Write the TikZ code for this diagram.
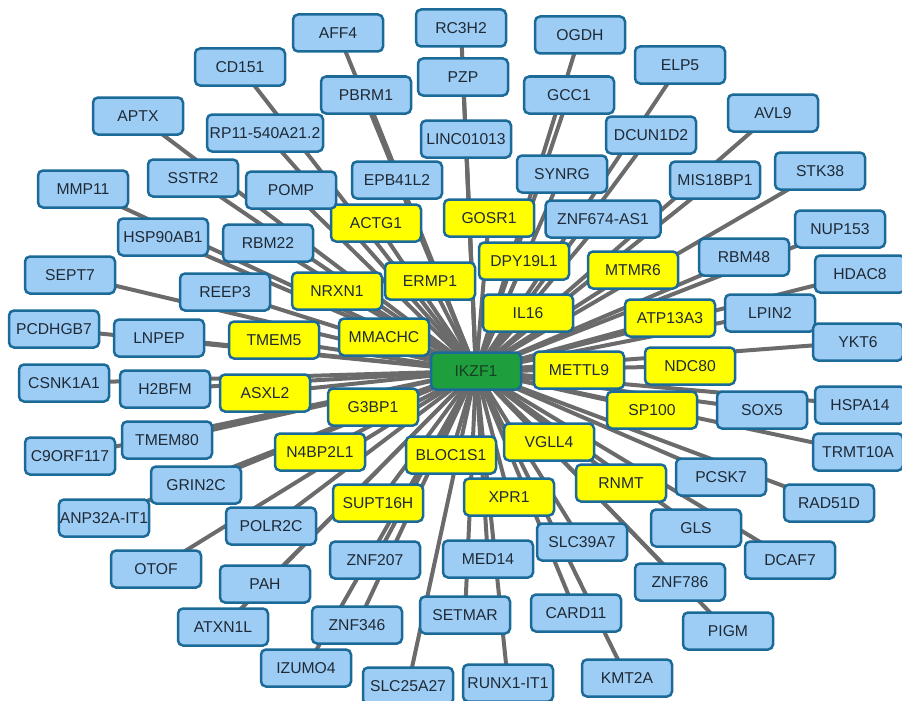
\documentclass[tikz,border=0pt]{standalone}
\usepackage{fontspec}
\setmainfont{Liberation Sans}
\pgfdeclarelayer{bg}
\pgfsetlayers{bg,main}
\definecolor{bluefill}{HTML}{9DCDF5}
\definecolor{edgeblue}{HTML}{1C6A98}
\definecolor{yfill}{HTML}{FFFF00}
\definecolor{gfill}{HTML}{1F9E3E}
\definecolor{gtext}{HTML}{173F22}
\definecolor{linkgray}{HTML}{6B6B6B}
\definecolor{txt}{HTML}{1F2A36}
\tikzset{
  x=1pt, y=-1pt,
  gene/.style={draw=edgeblue, line width=2.5pt, rounded corners=5pt,
    minimum width=90pt, minimum height=37pt, inner sep=1pt,
    font=\fontsize{15.7}{16}\selectfont, text=txt},
  bnode/.style={gene, fill=bluefill},
  ynode/.style={gene, fill=yfill},
  hub/.style={gene, fill=gfill, text=gtext},
  link/.style={draw=linkgray, line width=4pt}
}
\begin{document}
\begin{tikzpicture}
\useasboundingbox (0,0) rectangle (902,701);
\node[hub] (IKZF1) at (476,371) {IKZF1};
% yellow
\node[ynode] (ACTG1) at (376,223) {ACTG1};
\node[ynode] (GOSR1) at (489,218) {GOSR1};
\node[ynode] (DPY19L1) at (524,261) {DPY19L1};
\node[ynode] (MTMR6) at (633,270) {MTMR6};
\node[ynode] (NRXN1) at (337,291) {NRXN1};
\node[ynode] (ERMP1) at (430,281) {ERMP1};
\node[ynode] (IL16) at (528,313) {IL16};
\node[ynode] (ATP13A3) at (670,318) {ATP13A3};
\node[ynode] (TMEM5) at (274,340) {TMEM5};
\node[ynode] (MMACHC) at (384,337) {MMACHC};
\node[ynode] (METTL9) at (579,370) {METTL9};
\node[ynode] (NDC80) at (690,366) {NDC80};
\node[ynode] (ASXL2) at (265,393) {ASXL2};
\node[ynode] (G3BP1) at (373,407) {G3BP1};
\node[ynode] (SP100) at (652,410) {SP100};
\node[ynode] (N4BP2L1) at (320,452) {N4BP2L1};
\node[ynode] (BLOC1S1) at (451,455) {BLOC1S1};
\node[ynode] (VGLL4) at (549,442) {VGLL4};
\node[ynode] (RNMT) at (621,483) {RNMT};
\node[ynode] (SUPT16H) at (378,503) {SUPT16H};
\node[ynode] (XPR1) at (509,497) {XPR1};
% blue
\node[bnode] (AFF4) at (338,33) {AFF4};
\node[bnode] (RC3H2) at (461,28) {RC3H2};
\node[bnode] (OGDH) at (580,35) {OGDH};
\node[bnode] (CD151) at (240,67) {CD151};
\node[bnode] (PBRM1) at (366,95) {PBRM1};
\node[bnode] (PZP) at (463,77) {PZP};
\node[bnode] (ELP5) at (680,65) {ELP5};
\node[bnode] (GCC1) at (569,95) {GCC1};
\node[bnode] (APTX) at (138,116) {APTX};
\node[bnode, minimum width=116pt] (RP11) at (265,133) {RP11-540A21.2};
\node[bnode] (LINC01013) at (466,139) {LINC01013};
\node[bnode] (DCUN1D2) at (651,135) {DCUN1D2};
\node[bnode] (AVL9) at (773,113) {AVL9};
\node[bnode] (SSTR2) at (193,178) {SSTR2};
\node[bnode] (MMP11) at (83,189) {MMP11};
\node[bnode] (POMP) at (291,190) {POMP};
\node[bnode] (EPB41L2) at (397,180) {EPB41L2};
\node[bnode] (SYNRG) at (562,174) {SYNRG};
\node[bnode] (MIS18BP1) at (715,180) {MIS18BP1};
\node[bnode] (STK38) at (820,171) {STK38};
\node[bnode, minimum width=115pt] (ZNF674) at (603,219) {ZNF674-AS1};
\node[bnode] (NUP153) at (840,229) {NUP153};
\node[bnode] (HSP90AB1) at (163,237) {HSP90AB1};
\node[bnode] (RBM22) at (268,243) {RBM22};
\node[bnode] (SEPT7) at (70,275) {SEPT7};
\node[bnode] (REEP3) at (225,292) {REEP3};
\node[bnode] (PCDHGB7) at (54,329) {PCDHGB7};
\node[bnode] (LNPEP) at (159,338) {LNPEP};
\node[bnode] (CSNK1A1) at (64,383) {CSNK1A1};
\node[bnode] (H2BFM) at (165,389) {H2BFM};
\node[bnode] (TMEM80) at (167,440) {TMEM80};
\node[bnode] (C9ORF117) at (70,456) {C9ORF117};
\node[bnode] (RBM48) at (744,257) {RBM48};
\node[bnode] (HDAC8) at (860,274) {HDAC8};
\node[bnode] (LPIN2) at (770,313) {LPIN2};
\node[bnode] (YKT6) at (858,342) {YKT6};
\node[bnode] (SOX5) at (762,410) {SOX5};
\node[bnode] (HSPA14) at (860,405) {HSPA14};
\node[bnode] (TRMT10A) at (858,452) {TRMT10A};
\node[bnode] (GRIN2C) at (196,485) {GRIN2C};
\node[bnode] (ANP32A) at (104,518) {ANP32A-IT1};
\node[bnode] (POLR2C) at (271,526) {POLR2C};
\node[bnode] (OTOF) at (156,569) {OTOF};
\node[bnode] (PAH) at (265,584) {PAH};
\node[bnode] (ZNF207) at (375,560) {ZNF207};
\node[bnode] (ATXN1L) at (223,627) {ATXN1L};
\node[bnode] (ZNF346) at (357,625) {ZNF346};
\node[bnode] (IZUMO4) at (306,668) {IZUMO4};
\node[bnode] (SLC25A27) at (408,686) {SLC25A27};
\node[bnode] (SETMAR) at (465,615) {SETMAR};
\node[bnode] (MED14) at (488,559) {MED14};
\node[bnode] (PCSK7) at (721,477) {PCSK7};
\node[bnode] (RAD51D) at (829,503) {RAD51D};
\node[bnode] (SLC39A7) at (582,542) {SLC39A7};
\node[bnode] (GLS) at (696,528) {GLS};
\node[bnode] (DCAF7) at (790,560) {DCAF7};
\node[bnode] (ZNF786) at (680,582) {ZNF786};
\node[bnode] (CARD11) at (576,613) {CARD11};
\node[bnode] (PIGM) at (728,631) {PIGM};
\node[bnode] (RUNX1) at (508,683) {RUNX1-IT1};
\node[bnode] (KMT2A) at (627,678) {KMT2A};
\begin{pgfonlayer}{bg}
\foreach \n in {ACTG1,GOSR1,DPY19L1,MTMR6,NRXN1,ERMP1,IL16,ATP13A3,TMEM5,MMACHC,
  METTL9,NDC80,ASXL2,G3BP1,SP100,N4BP2L1,BLOC1S1,VGLL4,RNMT,SUPT16H,XPR1,
  AFF4,RC3H2,OGDH,CD151,PBRM1,PZP,ELP5,GCC1,APTX,RP11,LINC01013,DCUN1D2,AVL9,
  SSTR2,MMP11,POMP,EPB41L2,SYNRG,MIS18BP1,STK38,ZNF674,NUP153,HSP90AB1,RBM22,
  SEPT7,REEP3,PCDHGB7,LNPEP,CSNK1A1,H2BFM,TMEM80,C9ORF117,RBM48,HDAC8,LPIN2,
  YKT6,SOX5,HSPA14,TRMT10A,GRIN2C,ANP32A,POLR2C,OTOF,PAH,ZNF207,ATXN1L,ZNF346,
  IZUMO4,SLC25A27,SETMAR,MED14,PCSK7,RAD51D,SLC39A7,GLS,DCAF7,ZNF786,CARD11,
  PIGM,RUNX1,KMT2A}
  \draw[link] (IKZF1.center) -- (\n.center);
\end{pgfonlayer}
\end{tikzpicture}
\end{document}
